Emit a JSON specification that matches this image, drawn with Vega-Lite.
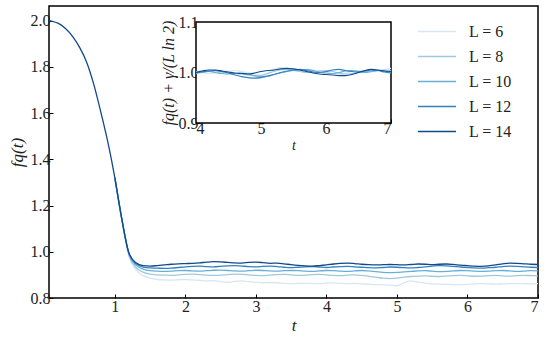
{
  "$schema": "https://vega.github.io/schema/vega-lite/v6.json",
  "width": 489,
  "height": 292,
  "autosize": {"type": "none"},
  "padding": {"left": 49, "top": 6, "right": 11, "bottom": 43},
  "background": "white",
  "config": {
    "font": "Liberation Serif",
    "view": {"stroke": "black", "strokeWidth": 1.5},
    "axis": {
      "labelFont": "Liberation Serif",
      "labelFontSize": 16,
      "labelColor": "#222222",
      "titleFont": "Liberation Serif",
      "titleFontSize": 17,
      "titleFontWeight": "normal",
      "titleFontStyle": "italic",
      "titleColor": "#222222",
      "grid": false,
      "domain": false,
      "tickColor": "black",
      "tickSize": -4,
      "tickWidth": 1
    },
    "legend": {
      "labelFont": "Liberation Serif",
      "labelFontSize": 16,
      "labelColor": "#222222"
    }
  },
  "datasets": {
    "main": [
      {"L":6,"t":1.0,"f":1.32},{"L":6,"t":1.1,"f":1.133},{"L":6,"t":1.2,"f":0.98},{"L":6,"t":1.3,"f":0.922},{"L":6,"t":1.4,"f":0.897},{"L":6,"t":1.5,"f":0.886},{"L":6,"t":1.6,"f":0.88},
      {"L":6,"t":1.7,"f":0.878},{"L":6,"t":1.8,"f":0.877},{"L":6,"t":1.9,"f":0.879},{"L":6,"t":2.0,"f":0.88},{"L":6,"t":2.1,"f":0.878},{"L":6,"t":2.2,"f":0.876},{"L":6,"t":2.3,"f":0.874},{"L":6,"t":2.4,"f":0.875},{"L":6,"t":2.5,"f":0.871},{"L":6,"t":2.6,"f":0.868},
      {"L":6,"t":2.7,"f":0.872},{"L":6,"t":2.8,"f":0.874},{"L":6,"t":2.9,"f":0.871},{"L":6,"t":3.0,"f":0.868},{"L":6,"t":3.1,"f":0.866},{"L":6,"t":3.2,"f":0.867},{"L":6,"t":3.3,"f":0.866},{"L":6,"t":3.4,"f":0.863},{"L":6,"t":3.5,"f":0.862},{"L":6,"t":3.6,"f":0.863},
      {"L":6,"t":3.7,"f":0.864},{"L":6,"t":3.8,"f":0.863},{"L":6,"t":3.9,"f":0.862},{"L":6,"t":4.0,"f":0.864},{"L":6,"t":4.1,"f":0.865},{"L":6,"t":4.2,"f":0.863},{"L":6,"t":4.3,"f":0.862},{"L":6,"t":4.4,"f":0.863},{"L":6,"t":4.5,"f":0.861},{"L":6,"t":4.6,"f":0.86},
      {"L":6,"t":4.7,"f":0.858},{"L":6,"t":4.8,"f":0.857},{"L":6,"t":4.9,"f":0.855},{"L":6,"t":5.0,"f":0.853},{"L":6,"t":5.1,"f":0.866},{"L":6,"t":5.2,"f":0.874},{"L":6,"t":5.3,"f":0.869},{"L":6,"t":5.4,"f":0.864},{"L":6,"t":5.5,"f":0.861},{"L":6,"t":5.6,"f":0.86},
      {"L":6,"t":5.7,"f":0.859},{"L":6,"t":5.8,"f":0.858},{"L":6,"t":5.9,"f":0.858},{"L":6,"t":6.0,"f":0.859},{"L":6,"t":6.1,"f":0.861},{"L":6,"t":6.2,"f":0.862},{"L":6,"t":6.3,"f":0.861},{"L":6,"t":6.4,"f":0.86},{"L":6,"t":6.5,"f":0.861},{"L":6,"t":6.6,"f":0.862},
      {"L":6,"t":6.7,"f":0.863},{"L":6,"t":6.8,"f":0.862},{"L":6,"t":6.9,"f":0.861},{"L":6,"t":7.0,"f":0.862},

      {"L":8,"t":1.0,"f":1.32},{"L":8,"t":1.1,"f":1.136},{"L":8,"t":1.2,"f":0.985},{"L":8,"t":1.3,"f":0.932},{"L":8,"t":1.4,"f":0.912},{"L":8,"t":1.5,"f":0.903},{"L":8,"t":1.6,"f":0.9},
      {"L":8,"t":1.7,"f":0.899},{"L":8,"t":1.8,"f":0.898},{"L":8,"t":1.9,"f":0.9},{"L":8,"t":2.0,"f":0.902},{"L":8,"t":2.1,"f":0.903},{"L":8,"t":2.2,"f":0.901},{"L":8,"t":2.3,"f":0.899},{"L":8,"t":2.4,"f":0.898},{"L":8,"t":2.5,"f":0.899},{"L":8,"t":2.6,"f":0.901},
      {"L":8,"t":2.7,"f":0.903},{"L":8,"t":2.8,"f":0.902},{"L":8,"t":2.9,"f":0.9},{"L":8,"t":3.0,"f":0.898},{"L":8,"t":3.1,"f":0.897},{"L":8,"t":3.2,"f":0.899},{"L":8,"t":3.3,"f":0.901},{"L":8,"t":3.4,"f":0.902},{"L":8,"t":3.5,"f":0.9},{"L":8,"t":3.6,"f":0.898},
      {"L":8,"t":3.7,"f":0.899},{"L":8,"t":3.8,"f":0.901},{"L":8,"t":3.9,"f":0.902},{"L":8,"t":4.0,"f":0.9},{"L":8,"t":4.1,"f":0.898},{"L":8,"t":4.2,"f":0.897},{"L":8,"t":4.3,"f":0.899},{"L":8,"t":4.4,"f":0.9},{"L":8,"t":4.5,"f":0.898},{"L":8,"t":4.6,"f":0.894},
      {"L":8,"t":4.7,"f":0.89},{"L":8,"t":4.8,"f":0.886},{"L":8,"t":4.9,"f":0.884},{"L":8,"t":5.0,"f":0.886},{"L":8,"t":5.1,"f":0.89},{"L":8,"t":5.2,"f":0.893},{"L":8,"t":5.3,"f":0.895},{"L":8,"t":5.4,"f":0.896},{"L":8,"t":5.5,"f":0.894},{"L":8,"t":5.6,"f":0.893},
      {"L":8,"t":5.7,"f":0.895},{"L":8,"t":5.8,"f":0.897},{"L":8,"t":5.9,"f":0.898},{"L":8,"t":6.0,"f":0.896},{"L":8,"t":6.1,"f":0.894},{"L":8,"t":6.2,"f":0.895},{"L":8,"t":6.3,"f":0.897},{"L":8,"t":6.4,"f":0.898},{"L":8,"t":6.5,"f":0.896},{"L":8,"t":6.6,"f":0.895},
      {"L":8,"t":6.7,"f":0.897},{"L":8,"t":6.8,"f":0.898},{"L":8,"t":6.9,"f":0.897},{"L":8,"t":7.0,"f":0.896},

      {"L":10,"t":1.0,"f":1.32},{"L":10,"t":1.1,"f":1.138},{"L":10,"t":1.2,"f":0.99},{"L":10,"t":1.3,"f":0.942},{"L":10,"t":1.4,"f":0.925},{"L":10,"t":1.5,"f":0.918},{"L":10,"t":1.6,"f":0.916},
      {"L":10,"t":1.7,"f":0.915},{"L":10,"t":1.8,"f":0.916},{"L":10,"t":1.9,"f":0.918},{"L":10,"t":2.0,"f":0.919},{"L":10,"t":2.1,"f":0.917},{"L":10,"t":2.2,"f":0.916},{"L":10,"t":2.3,"f":0.918},{"L":10,"t":2.4,"f":0.92},{"L":10,"t":2.5,"f":0.921},{"L":10,"t":2.6,"f":0.919},
      {"L":10,"t":2.7,"f":0.917},{"L":10,"t":2.8,"f":0.916},{"L":10,"t":2.9,"f":0.918},{"L":10,"t":3.0,"f":0.92},{"L":10,"t":3.1,"f":0.919},{"L":10,"t":3.2,"f":0.917},{"L":10,"t":3.3,"f":0.916},{"L":10,"t":3.4,"f":0.918},{"L":10,"t":3.5,"f":0.919},{"L":10,"t":3.6,"f":0.918},
      {"L":10,"t":3.7,"f":0.916},{"L":10,"t":3.8,"f":0.915},{"L":10,"t":3.9,"f":0.917},{"L":10,"t":4.0,"f":0.919},{"L":10,"t":4.1,"f":0.918},{"L":10,"t":4.2,"f":0.916},{"L":10,"t":4.3,"f":0.915},{"L":10,"t":4.4,"f":0.917},{"L":10,"t":4.5,"f":0.919},{"L":10,"t":4.6,"f":0.917},
      {"L":10,"t":4.7,"f":0.914},{"L":10,"t":4.8,"f":0.911},{"L":10,"t":4.9,"f":0.91},{"L":10,"t":5.0,"f":0.911},{"L":10,"t":5.1,"f":0.913},{"L":10,"t":5.2,"f":0.915},{"L":10,"t":5.3,"f":0.917},{"L":10,"t":5.4,"f":0.918},{"L":10,"t":5.5,"f":0.916},{"L":10,"t":5.6,"f":0.914},
      {"L":10,"t":5.7,"f":0.915},{"L":10,"t":5.8,"f":0.917},{"L":10,"t":5.9,"f":0.919},{"L":10,"t":6.0,"f":0.918},{"L":10,"t":6.1,"f":0.916},{"L":10,"t":6.2,"f":0.915},{"L":10,"t":6.3,"f":0.916},{"L":10,"t":6.4,"f":0.918},{"L":10,"t":6.5,"f":0.919},{"L":10,"t":6.6,"f":0.917},
      {"L":10,"t":6.7,"f":0.915},{"L":10,"t":6.8,"f":0.916},{"L":10,"t":6.9,"f":0.918},{"L":10,"t":7.0,"f":0.917},

      {"L":12,"t":1.0,"f":1.32},{"L":12,"t":1.1,"f":1.14},{"L":12,"t":1.2,"f":0.993},{"L":12,"t":1.3,"f":0.948},{"L":12,"t":1.4,"f":0.934},{"L":12,"t":1.5,"f":0.93},{"L":12,"t":1.6,"f":0.929},
      {"L":12,"t":1.7,"f":0.928},{"L":12,"t":1.8,"f":0.929},{"L":12,"t":1.9,"f":0.932},{"L":12,"t":2.0,"f":0.935},{"L":12,"t":2.1,"f":0.937},{"L":12,"t":2.2,"f":0.938},{"L":12,"t":2.3,"f":0.936},{"L":12,"t":2.4,"f":0.935},{"L":12,"t":2.5,"f":0.937},{"L":12,"t":2.6,"f":0.939},
      {"L":12,"t":2.7,"f":0.94},{"L":12,"t":2.8,"f":0.938},{"L":12,"t":2.9,"f":0.936},{"L":12,"t":3.0,"f":0.935},{"L":12,"t":3.1,"f":0.937},{"L":12,"t":3.2,"f":0.938},{"L":12,"t":3.3,"f":0.936},{"L":12,"t":3.4,"f":0.933},{"L":12,"t":3.5,"f":0.931},{"L":12,"t":3.6,"f":0.933},
      {"L":12,"t":3.7,"f":0.935},{"L":12,"t":3.8,"f":0.936},{"L":12,"t":3.9,"f":0.934},{"L":12,"t":4.0,"f":0.932},{"L":12,"t":4.1,"f":0.934},{"L":12,"t":4.2,"f":0.936},{"L":12,"t":4.3,"f":0.937},{"L":12,"t":4.4,"f":0.935},{"L":12,"t":4.5,"f":0.933},{"L":12,"t":4.6,"f":0.931},
      {"L":12,"t":4.7,"f":0.93},{"L":12,"t":4.8,"f":0.932},{"L":12,"t":4.9,"f":0.934},{"L":12,"t":5.0,"f":0.933},{"L":12,"t":5.1,"f":0.931},{"L":12,"t":5.2,"f":0.93},{"L":12,"t":5.3,"f":0.932},{"L":12,"t":5.4,"f":0.935},{"L":12,"t":5.5,"f":0.938},{"L":12,"t":5.6,"f":0.94},
      {"L":12,"t":5.7,"f":0.939},{"L":12,"t":5.8,"f":0.937},{"L":12,"t":5.9,"f":0.934},{"L":12,"t":6.0,"f":0.932},{"L":12,"t":6.1,"f":0.93},{"L":12,"t":6.2,"f":0.929},{"L":12,"t":6.3,"f":0.931},{"L":12,"t":6.4,"f":0.933},{"L":12,"t":6.5,"f":0.936},{"L":12,"t":6.6,"f":0.938},
      {"L":12,"t":6.7,"f":0.937},{"L":12,"t":6.8,"f":0.935},{"L":12,"t":6.9,"f":0.933},{"L":12,"t":7.0,"f":0.932},

      {"L":14,"t":0.066,"f":2.0},{"L":14,"t":0.1,"f":1.998},{"L":14,"t":0.2,"f":1.988},{"L":14,"t":0.3,"f":1.966},{"L":14,"t":0.4,"f":1.932},{"L":14,"t":0.5,"f":1.884},{"L":14,"t":0.6,"f":1.82},{"L":14,"t":0.7,"f":1.725},{"L":14,"t":0.8,"f":1.605},{"L":14,"t":0.9,"f":1.475},
      {"L":14,"t":1.0,"f":1.32},{"L":14,"t":1.1,"f":1.14},{"L":14,"t":1.2,"f":0.995},{"L":14,"t":1.3,"f":0.952},{"L":14,"t":1.4,"f":0.94},{"L":14,"t":1.5,"f":0.938},{"L":14,"t":1.6,"f":0.94},
      {"L":14,"t":1.7,"f":0.943},{"L":14,"t":1.8,"f":0.946},{"L":14,"t":1.9,"f":0.948},{"L":14,"t":2.0,"f":0.949},{"L":14,"t":2.1,"f":0.95},{"L":14,"t":2.2,"f":0.952},{"L":14,"t":2.3,"f":0.955},{"L":14,"t":2.4,"f":0.957},{"L":14,"t":2.5,"f":0.956},{"L":14,"t":2.6,"f":0.954},
      {"L":14,"t":2.7,"f":0.952},{"L":14,"t":2.8,"f":0.951},{"L":14,"t":2.9,"f":0.954},{"L":14,"t":3.0,"f":0.955},{"L":14,"t":3.1,"f":0.953},{"L":14,"t":3.2,"f":0.95},{"L":14,"t":3.3,"f":0.951},{"L":14,"t":3.4,"f":0.948},{"L":14,"t":3.5,"f":0.944},{"L":14,"t":3.6,"f":0.941},
      {"L":14,"t":3.7,"f":0.939},{"L":14,"t":3.8,"f":0.938},{"L":14,"t":3.9,"f":0.94},{"L":14,"t":4.0,"f":0.943},{"L":14,"t":4.1,"f":0.947},{"L":14,"t":4.2,"f":0.95},{"L":14,"t":4.3,"f":0.951},{"L":14,"t":4.4,"f":0.949},{"L":14,"t":4.5,"f":0.946},{"L":14,"t":4.6,"f":0.944},
      {"L":14,"t":4.7,"f":0.943},{"L":14,"t":4.8,"f":0.944},{"L":14,"t":4.9,"f":0.945},{"L":14,"t":5.0,"f":0.944},{"L":14,"t":5.1,"f":0.943},{"L":14,"t":5.2,"f":0.945},{"L":14,"t":5.3,"f":0.947},{"L":14,"t":5.4,"f":0.946},{"L":14,"t":5.5,"f":0.944},{"L":14,"t":5.6,"f":0.946},
      {"L":14,"t":5.7,"f":0.947},{"L":14,"t":5.8,"f":0.945},{"L":14,"t":5.9,"f":0.942},{"L":14,"t":6.0,"f":0.94},{"L":14,"t":6.1,"f":0.938},{"L":14,"t":6.2,"f":0.937},{"L":14,"t":6.3,"f":0.939},{"L":14,"t":6.4,"f":0.943},{"L":14,"t":6.5,"f":0.948},{"L":14,"t":6.6,"f":0.951},
      {"L":14,"t":6.7,"f":0.95},{"L":14,"t":6.8,"f":0.948},{"L":14,"t":6.9,"f":0.946},{"L":14,"t":7.0,"f":0.945}
    ],
    "inset": [
      {"L":6,"t":4.0,"g":1.002},{"L":6,"t":4.1,"g":1.0},{"L":6,"t":4.2,"g":0.998},{"L":6,"t":4.3,"g":0.999},{"L":6,"t":4.4,"g":1.001},{"L":6,"t":4.5,"g":1.003},{"L":6,"t":4.6,"g":1.004},{"L":6,"t":4.7,"g":1.002},{"L":6,"t":4.8,"g":1.0},{"L":6,"t":4.9,"g":0.997},
      {"L":6,"t":5.0,"g":0.995},{"L":6,"t":5.1,"g":0.999},{"L":6,"t":5.2,"g":1.006},{"L":6,"t":5.3,"g":1.01},{"L":6,"t":5.4,"g":1.008},{"L":6,"t":5.5,"g":1.004},{"L":6,"t":5.6,"g":1.002},{"L":6,"t":5.7,"g":1.003},{"L":6,"t":5.8,"g":1.005},{"L":6,"t":5.9,"g":1.004},
      {"L":6,"t":6.0,"g":1.001},{"L":6,"t":6.1,"g":0.998},{"L":6,"t":6.2,"g":0.997},{"L":6,"t":6.3,"g":0.999},{"L":6,"t":6.4,"g":1.002},{"L":6,"t":6.5,"g":1.004},{"L":6,"t":6.6,"g":1.003},{"L":6,"t":6.7,"g":1.001},{"L":6,"t":6.8,"g":1.003},{"L":6,"t":6.9,"g":1.006},{"L":6,"t":7.0,"g":1.008},

      {"L":8,"t":4.0,"g":0.998},{"L":8,"t":4.1,"g":1.0},{"L":8,"t":4.2,"g":1.002},{"L":8,"t":4.3,"g":1.003},{"L":8,"t":4.4,"g":1.001},{"L":8,"t":4.5,"g":0.999},{"L":8,"t":4.6,"g":0.998},{"L":8,"t":4.7,"g":0.997},{"L":8,"t":4.8,"g":0.995},{"L":8,"t":4.9,"g":0.993},
      {"L":8,"t":5.0,"g":0.994},{"L":8,"t":5.1,"g":0.998},{"L":8,"t":5.2,"g":1.002},{"L":8,"t":5.3,"g":1.005},{"L":8,"t":5.4,"g":1.006},{"L":8,"t":5.5,"g":1.004},{"L":8,"t":5.6,"g":1.002},{"L":8,"t":5.7,"g":1.0},{"L":8,"t":5.8,"g":1.001},{"L":8,"t":5.9,"g":1.003},
      {"L":8,"t":6.0,"g":1.004},{"L":8,"t":6.1,"g":1.002},{"L":8,"t":6.2,"g":0.999},{"L":8,"t":6.3,"g":0.997},{"L":8,"t":6.4,"g":0.998},{"L":8,"t":6.5,"g":1.0},{"L":8,"t":6.6,"g":1.002},{"L":8,"t":6.7,"g":1.003},{"L":8,"t":6.8,"g":1.004},{"L":8,"t":6.9,"g":1.005},{"L":8,"t":7.0,"g":1.004},

      {"L":10,"t":4.0,"g":1.001},{"L":10,"t":4.1,"g":1.003},{"L":10,"t":4.2,"g":1.002},{"L":10,"t":4.3,"g":1.0},{"L":10,"t":4.4,"g":0.998},{"L":10,"t":4.5,"g":0.997},{"L":10,"t":4.6,"g":0.998},{"L":10,"t":4.7,"g":0.999},{"L":10,"t":4.8,"g":0.997},{"L":10,"t":4.9,"g":0.994},
      {"L":10,"t":5.0,"g":0.992},{"L":10,"t":5.1,"g":0.993},{"L":10,"t":5.2,"g":0.996},{"L":10,"t":5.3,"g":0.999},{"L":10,"t":5.4,"g":1.002},{"L":10,"t":5.5,"g":1.004},{"L":10,"t":5.6,"g":1.005},{"L":10,"t":5.7,"g":1.006},{"L":10,"t":5.8,"g":1.004},{"L":10,"t":5.9,"g":1.001},
      {"L":10,"t":6.0,"g":0.999},{"L":10,"t":6.1,"g":0.998},{"L":10,"t":6.2,"g":1.0},{"L":10,"t":6.3,"g":1.003},{"L":10,"t":6.4,"g":1.004},{"L":10,"t":6.5,"g":1.002},{"L":10,"t":6.6,"g":1.0},{"L":10,"t":6.7,"g":1.002},{"L":10,"t":6.8,"g":1.004},{"L":10,"t":6.9,"g":1.003},{"L":10,"t":7.0,"g":1.0},

      {"L":12,"t":4.0,"g":0.999},{"L":12,"t":4.1,"g":1.001},{"L":12,"t":4.2,"g":1.003},{"L":12,"t":4.3,"g":1.004},{"L":12,"t":4.4,"g":1.002},{"L":12,"t":4.5,"g":0.999},{"L":12,"t":4.6,"g":0.995},{"L":12,"t":4.7,"g":0.992},{"L":12,"t":4.8,"g":0.99},{"L":12,"t":4.9,"g":0.989},
      {"L":12,"t":5.0,"g":0.99},{"L":12,"t":5.1,"g":0.993},{"L":12,"t":5.2,"g":0.996},{"L":12,"t":5.3,"g":1.0},{"L":12,"t":5.4,"g":1.003},{"L":12,"t":5.5,"g":1.005},{"L":12,"t":5.6,"g":1.006},{"L":12,"t":5.7,"g":1.004},{"L":12,"t":5.8,"g":1.001},{"L":12,"t":5.9,"g":1.0},
      {"L":12,"t":6.0,"g":1.002},{"L":12,"t":6.1,"g":1.005},{"L":12,"t":6.2,"g":1.006},{"L":12,"t":6.3,"g":1.004},{"L":12,"t":6.4,"g":1.002},{"L":12,"t":6.5,"g":1.001},{"L":12,"t":6.6,"g":1.003},{"L":12,"t":6.7,"g":1.005},{"L":12,"t":6.8,"g":1.004},{"L":12,"t":6.9,"g":1.001},{"L":12,"t":7.0,"g":0.999},

      {"L":14,"t":4.0,"g":1.0},{"L":14,"t":4.1,"g":1.003},{"L":14,"t":4.2,"g":1.005},{"L":14,"t":4.3,"g":1.005},{"L":14,"t":4.4,"g":1.003},{"L":14,"t":4.5,"g":1.001},{"L":14,"t":4.6,"g":0.999},{"L":14,"t":4.7,"g":0.998},{"L":14,"t":4.8,"g":0.997},{"L":14,"t":4.9,"g":0.999},
      {"L":14,"t":5.0,"g":1.002},{"L":14,"t":5.1,"g":1.004},{"L":14,"t":5.2,"g":1.005},{"L":14,"t":5.3,"g":1.007},{"L":14,"t":5.4,"g":1.008},{"L":14,"t":5.5,"g":1.007},{"L":14,"t":5.6,"g":1.005},{"L":14,"t":5.7,"g":1.002},{"L":14,"t":5.8,"g":0.999},{"L":14,"t":5.9,"g":0.997},
      {"L":14,"t":6.0,"g":0.996},{"L":14,"t":6.1,"g":0.995},{"L":14,"t":6.2,"g":0.994},{"L":14,"t":6.3,"g":0.994},{"L":14,"t":6.4,"g":0.996},{"L":14,"t":6.5,"g":1.0},{"L":14,"t":6.6,"g":1.004},{"L":14,"t":6.7,"g":1.006},{"L":14,"t":6.8,"g":1.005},{"L":14,"t":6.9,"g":1.003},{"L":14,"t":7.0,"g":1.002}
    ]
  },
  "layer": [
    {
      "data": {"name": "main"},
      "mark": {"type": "line", "strokeWidth": 1.3, "interpolate": "monotone"},
      "encoding": {
        "x": {
          "field": "t", "type": "quantitative",
          "scale": {"domain": [0.066, 7], "nice": false, "zero": false},
          "axis": {"values": [1, 2, 3, 4, 5, 6, 7], "format": "d", "title": "t", "labelPadding": 4, "titlePadding": 3}
        },
        "y": {
          "field": "f", "type": "quantitative",
          "scale": {"domain": [0.8, 2.063], "nice": false, "zero": false},
          "axis": {"values": [0.8, 1.0, 1.2, 1.4, 1.6, 1.8, 2.0], "format": ".1f", "title": "fq(t)", "labelPadding": 3, "titlePadding": 4}
        },
        "color": {
          "field": "L", "type": "ordinal",
          "scale": {"domain": [6, 8, 10, 12, 14], "range": ["#d6e6f4", "#9ecae1", "#6aaed6", "#3282be", "#12488c"]},
          "legend": {
            "orient": "none", "legendX": 368, "legendY": 13,
            "title": null,
            "symbolType": "stroke", "symbolSize": 1444, "symbolStrokeWidth": 1.5,
            "clipHeight": 25, "rowPadding": 0, "padding": 0,
            "labelOffset": 12,
            "labelExpr": "'L  =  ' + datum.label"
          }
        }
      }
    },
    {
      "layer": [
        {
          "data": {"values": [{}]},
          "mark": {"type": "rect", "fill": "white", "stroke": "black", "strokeWidth": 1.5},
          "encoding": {
            "x": {"datum": 4, "type": "quantitative"},
            "x2": {"datum": 7},
            "y": {"datum": 0.9, "type": "quantitative"},
            "y2": {"datum": 1.1}
          }
        },
        {
          "data": {"name": "inset"},
          "mark": {"type": "line", "strokeWidth": 1.2, "interpolate": "monotone"},
          "encoding": {
            "x": {
              "field": "t", "type": "quantitative",
              "scale": {"domain": [4, 7], "range": [147, 342], "nice": false, "zero": false},
              "axis": {"orient": "bottom", "offset": -175, "values": [4, 5, 6, 7], "format": "d", "title": "t", "labelPadding": 1, "titlePadding": 2, "titleFontSize": 14}
            },
            "y": {
              "field": "g", "type": "quantitative",
              "scale": {"domain": [0.9, 1.1], "range": [117, 16], "nice": false, "zero": false},
              "axis": {"orient": "left", "offset": -147, "values": [0.9, 1.0, 1.1], "format": ".1f", "title": "fq(t)  +  γ/(L ln 2)", "labelPadding": 2, "titlePadding": 2, "titleFontSize": 16}
            },
            "color": {"field": "L", "type": "ordinal", "legend": null}
          }
        }
      ]
    }
  ],
  "resolve": {"scale": {"x": "independent", "y": "independent"}}
}
